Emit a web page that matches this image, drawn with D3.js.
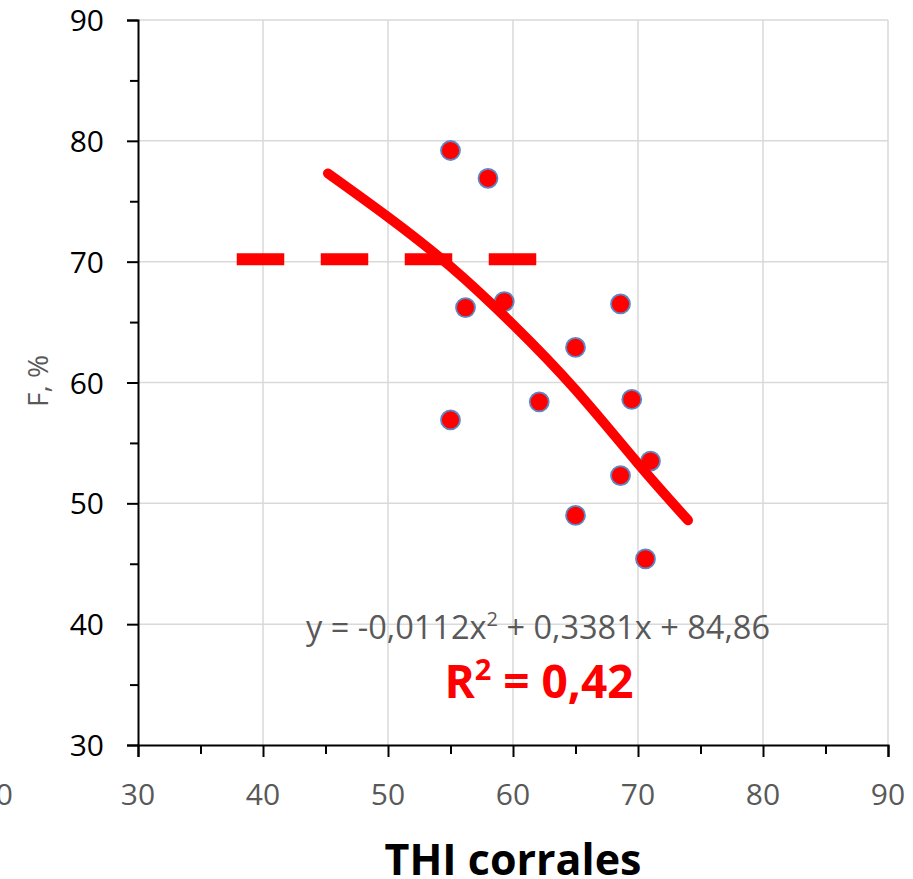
<!DOCTYPE html>
<html>
<head>
<meta charset="utf-8">
<script src="https://cdn.jsdelivr.net/npm/d3@7"></script>
<style>
  body { margin: 0; background: #fff; }
  text { font-family: "Open Sans", sans-serif; }
</style>
</head>
<body>
<script>
// measured points: THI in corrals vs F, %
const thi = [55.0, 58.0, 56.2, 59.3, 55.0, 62.1, 65.0, 65.0, 68.6, 69.5, 68.6, 71.0, 70.6];
const fPct = [79.2, 76.9, 66.2, 66.7, 56.9, 58.4, 62.9, 49.0, 66.5, 58.6, 52.3, 53.5, 45.4];

// polynomial trend line
const trendX = [45.2, 50, 55, 60, 65, 70, 74];
const trendY = [77.3, 73.7, 69.6, 64.8, 59.4, 53.3, 48.6];

// dashed threshold line
const limitX = [37.9, 61.9];
const limitY = [70.2, 70.2];

const xTicks = [20, 30, 40, 50, 60, 70, 80, 90];
const yTicks = [30, 40, 50, 60, 70, 80, 90];
const minorTicks = [35, 45, 55, 65, 75, 85];

const equation = 'y = -0,0112x';
const equationRest = ' + 0,3381x + 84,86';
const r2Label = ' = 0,42';

const svgWidth = 913,
  svgHeight = 879;
const plotLeft = 138, plotRight = 888, plotTop = 20, plotBottom = 745;

const svg = d3.select('body').append('svg')
  .attr('width', svgWidth)
  .attr('height', svgHeight);

const x = d3.scaleLinear().domain([30, 90]).range([plotLeft, plotRight]);
const y = d3.scaleLinear().domain([30, 90]).range([plotBottom, plotTop]);

// grid
svg.append('g').selectAll('line')
  .data(yTicks.filter(d => d > 30))
  .join('line')
  .attr('x1', plotLeft).attr('x2', plotRight)
  .attr('y1', d => y(d)).attr('y2', d => y(d))
  .attr('stroke', '#d9d9d9').attr('stroke-width', 1.5);

svg.append('g').selectAll('line')
  .data(xTicks.filter(d => d > 30))
  .join('line')
  .attr('x1', d => x(d)).attr('x2', d => x(d))
  .attr('y1', plotTop).attr('y2', plotBottom)
  .attr('stroke', '#d9d9d9').attr('stroke-width', 1.5);

// axes
svg.append('g').attr('transform', `translate(${plotLeft},0)`)
  .call(d3.axisLeft(y).tickValues(yTicks).tickSize(11).tickFormat(''));
svg.append('g').attr('transform', `translate(0,${plotBottom})`)
  .call(d3.axisBottom(x).tickValues(yTicks).tickSize(12).tickFormat(''));
svg.append('g').attr('transform', `translate(${plotLeft},0)`)
  .call(d3.axisLeft(y).tickValues(minorTicks).tickSize(8).tickFormat(''))
  .select('.domain').remove();
svg.append('g').attr('transform', `translate(0,${plotBottom})`)
  .call(d3.axisBottom(x).tickValues(minorTicks).tickSize(9).tickFormat(''))
  .select('.domain').remove();
svg.selectAll('.domain, .tick line').attr('stroke', '#000').attr('stroke-width', 2);

// tick labels
svg.append('g').selectAll('text')
  .data(yTicks)
  .join('text')
  .attr('x', 104)
  .attr('y', d => y(d) + 11)
  .attr('text-anchor', 'end')
  .attr('font-size', 30)
  .attr('fill', '#000')
  .text(d => d);

// the first label sits half off the left edge, as in the original
svg.append('g').selectAll('text')
  .data(xTicks)
  .join('text')
  .attr('x', d => x(d))
  .attr('y', 805)
  .attr('text-anchor', (d, i) => i === 0 ? 'end' : 'middle')
  .attr('font-size', 30)
  .attr('fill', '#595959')
  .text(d => d);

// axis titles
svg.append('text')
  .attr('transform', 'translate(48,381) rotate(-90)')
  .attr('text-anchor', 'middle')
  .attr('font-size', 28)
  .attr('fill', '#595959')
  .text('F, %');

svg.append('text')
  .attr('x', 513)
  .attr('y', 875)
  .attr('text-anchor', 'middle')
  .attr('font-size', 43)
  .attr('font-weight', 'bold')
  .attr('fill', '#000')
  .text('THI corrales');

// dashed threshold
svg.append('line')
  .attr('x1', x(limitX[0])).attr('x2', x(limitX[1]))
  .attr('y1', y(limitY[0])).attr('y2', y(limitY[1]))
  .attr('stroke', '#ff0000')
  .attr('stroke-width', 12)
  .attr('stroke-dasharray', '47.5 36.5');

// points
svg.append('g').selectAll('circle')
  .data(thi)
  .join('circle')
  .attr('cx', d => x(d))
  .attr('cy', (d, i) => y(fPct[i]))
  .attr('r', 9.5)
  .attr('fill', '#ff0000')
  .attr('stroke', '#5b89c8')
  .attr('stroke-width', 1.8);

// trend line
const line = d3.line()
  .x(d => x(d[0]))
  .y(d => y(d[1]))
  .curve(d3.curveNatural);

svg.append('path')
  .datum(trendX.map((d, i) => [d, trendY[i]]))
  .attr('d', line)
  .attr('fill', 'none')
  .attr('stroke', '#ff0000')
  .attr('stroke-width', 10)
  .attr('stroke-linecap', 'round');

// equation and R2
const eq = svg.append('text')
  .attr('x', 538)
  .attr('y', 639)
  .attr('text-anchor', 'middle')
  .attr('font-size', 32.5)
  .attr('fill', '#595959');
eq.append('tspan').text(equation);
eq.append('tspan').attr('font-size', 20).attr('dy', -13).text('2');
eq.append('tspan').attr('dy', 13).text(equationRest);

const r2 = svg.append('text')
  .attr('x', 539)
  .attr('y', 698)
  .attr('text-anchor', 'middle')
  .attr('font-size', 46)
  .attr('font-weight', 'bold')
  .attr('fill', '#ff0000');
r2.append('tspan').text('R');
r2.append('tspan').attr('font-size', 29).attr('dy', -18).text('2');
r2.append('tspan').attr('dy', 18).text(r2Label);
</script>
</body>
</html>
